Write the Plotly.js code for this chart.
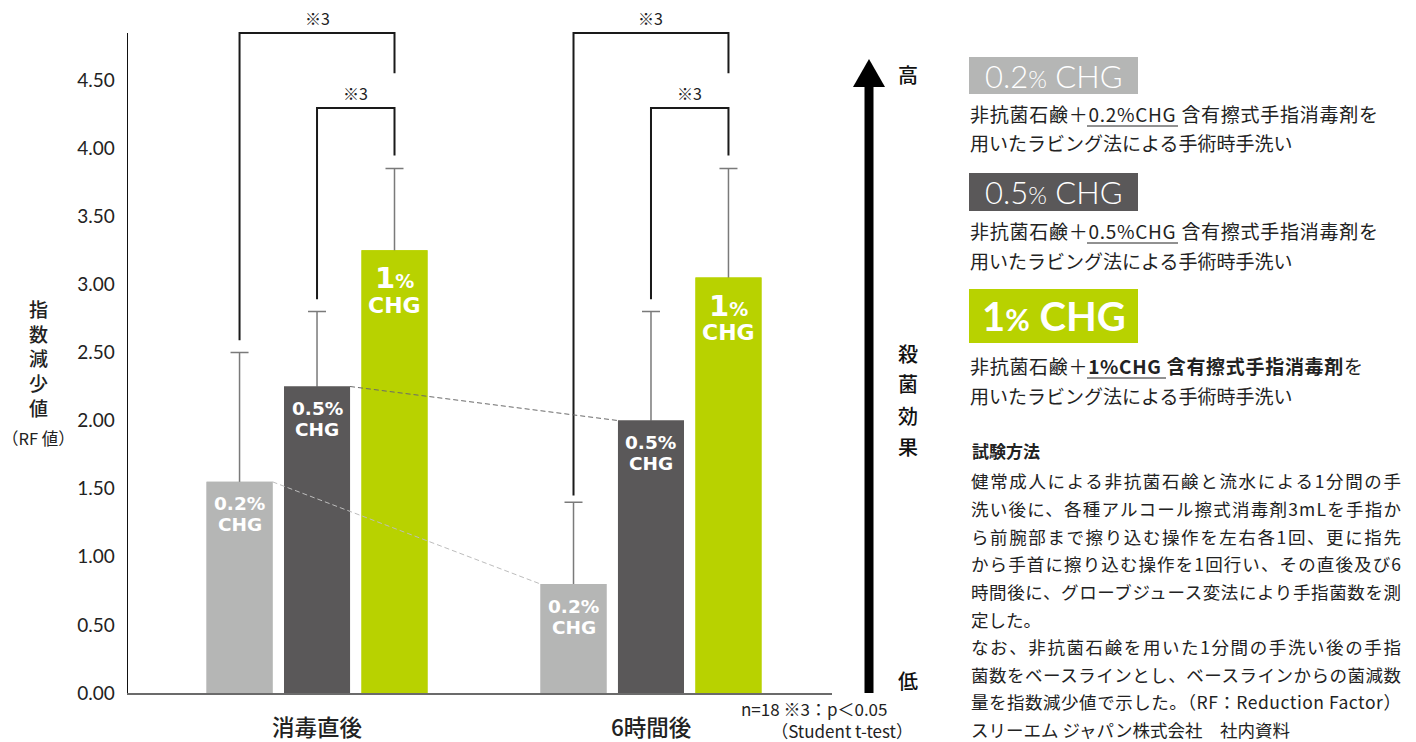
<!DOCTYPE html>
<html><head><meta charset="utf-8">
<script src="https://cdn.plot.ly/plotly-3.0.1.min.js"></script>
<style>html,body{margin:0;padding:0;background:#fff;}#chart{width:1416px;height:742px;}</style>
</head><body><div id="chart"></div>
<script>
// ---------- data ----------
const categories = ['消毒直後', '6時間後'];
const seriesNames = ['0.2% CHG', '0.5% CHG', '1% CHG'];
const rf02 = [1.55, 0.80];
const rf05 = [2.25, 2.00];
const rf1  = [3.25, 3.05];
const errUp02 = [0.95, 0.60];
const errUp05 = [0.55, 0.80];
const errUp1  = [0.60, 0.80];
const yTickVals = [0, 0.5, 1, 1.5, 2, 2.5, 3, 3.5, 4, 4.5];
const yTickText = ['0.00','0.50','1.00','1.50','2.00','2.50','3.00','3.50','4.00','4.50'];
const sigLabel = '※3';
// significance brackets: [left series, right series] and their levels
const bracketPairs = [[0, 2], [1, 2]];
const bracketTop = [4.845, 4.295];
const bracketRightEnd = [4.55, 3.945];
const bracketLeftStart = [[2.59, 2.89], [1.45, 2.89]];
const noteLine1 = 'n=18 ※3：p＜0.05';
const noteLine2 = '（Student t-test）';
const yTitleChars = '指<br>数<br>減<br>少<br>値';
const yTitleSub = '（RF 値）';
const effectHigh = '高', effectLow = '低';
const effectChars = ['殺', '菌', '効', '果'];
const legendDesc = [
  ['非抗菌石鹸＋0.2%CHG 含有擦式手指消毒剤を', '用いたラビング法による手術時手洗い'],
  ['非抗菌石鹸＋0.5%CHG 含有擦式手指消毒剤を', '用いたラビング法による手術時手洗い'],
  ['非抗菌石鹸＋<b>1%CHG 含有擦式手指消毒剤</b>を', '用いたラビング法による手術時手洗い']
];
const methodTitle = '試験方法';
const methodLines = [
  '健常成人による非抗菌石鹸と流水による1分間の手',
  '洗い後に、各種アルコール擦式消毒剤3mLを手指か',
  'ら前腕部まで擦り込む操作を左右各1回、更に指先',
  'から手首に擦り込む操作を1回行い、その直後及び6',
  '時間後に、グローブジュース変法により手指菌数を測',
  '定した。',
  'なお、非抗菌石鹸を用いた1分間の手洗い後の手指',
  '菌数をベースラインとし、ベースラインからの菌減数',
  '量を指数減少値で示した。（RF：Reduction Factor）',
  'スリーエム ジャパン株式会社　社内資料'
];
const methodJustified = [true, true, true, true, true, false, true, true, true, false];

// ---------- styling ----------
const colors = ['#b5b6b5', '#5a5859', '#b8d200'];
const values = [rf02, rf05, rf1];
const errs = [errUp02, errUp05, errUp1];
const CJK = '"Noto Sans CJK JP", sans-serif';
const NUM = 'Lato, sans-serif';
const BOLDF = '"DejaVu Sans", sans-serif';
const W = 1416, H = 742;
const M = {l: 128, r: 584, t: 33, b: 49};
const PW = W - M.l - M.r, PH = H - M.t - M.b;
const X_RANGE = [-0.566, 1.542];
const Y_RANGE = [0, 4.845];
const BARGAP = 0.304, BARGROUPGAP = 0.148;
const slot = (1 - BARGAP) / 3;
const halfBar = slot * (1 - BARGROUPGAP) / 2;
function off(s) { return (s - 1) * slot; }
function px(X) { return (X - M.l) / PW; }
function py(Y) { return (H - M.b - Y) / PH; }
function dx(v) { return (v - X_RANGE[0]) / (X_RANGE[1] - X_RANGE[0]); }
function dy(v) { return (v - Y_RANGE[0]) / (Y_RANGE[1] - Y_RANGE[0]); }

// base bars carry the error bars; identical bars on an overlaid subplot hide the lower caps
const traces = [];
values.forEach((vals, s) => {
  traces.push({
    type: 'bar', name: seriesNames[s], x: categories, y: vals, xaxis: 'x', yaxis: 'y',
    marker: {color: colors[s], line: {width: 0}},
    error_y: {type: 'data', symmetric: false, array: errs[s], arrayminus: vals.map(() => 0.03),
              color: '#7a7a7a', thickness: 1.5, width: 9},
    hoverinfo: 'skip', showlegend: false
  });
});
values.forEach((vals, s) => {
  traces.push({
    type: 'bar', name: seriesNames[s], x: categories, y: vals, xaxis: 'x2', yaxis: 'y2',
    marker: {color: colors[s], line: {width: 0}}, hoverinfo: 'skip', showlegend: false
  });
});

const shapes = [];
const annotations = [];

// brackets
categories.forEach((c, ci) => {
  bracketPairs.forEach((pr, bi) => {
    const xl = dx(ci + off(pr[0])), xr = dx(ci + off(pr[1]));
    const yl = dy(bracketLeftStart[ci][bi]), yt = dy(bracketTop[bi]), yr = dy(bracketRightEnd[bi]);
    shapes.push({type: 'path', xref: 'paper', yref: 'paper',
      path: `M ${xl} ${yl} L ${xl} ${yt} L ${xr} ${yt} L ${xr} ${yr}`,
      line: {color: '#1a1a1a', width: 2}});
    annotations.push({xref: 'paper', yref: 'paper', x: (xl + xr) / 2, y: yt, yshift: 15,
      text: sigLabel, showarrow: false, xanchor: 'center', yanchor: 'middle',
      font: {family: CJK, size: 16, color: '#222'}});
  });
});

// dashed connector lines between time points
const dashColors = ['#bdbdbd', '#6a6a6a'];
[0, 1].forEach(s => {
  shapes.push({type: 'line', xref: 'x', yref: 'y', layer: 'above',
    x0: 0 + off(s) + halfBar, y0: values[s][0], x1: 1 + off(s) - halfBar, y1: values[s][1],
    line: {color: dashColors[s], width: 1, dash: '5px,3px'}});
});

// bar labels
categories.forEach((c, ci) => {
  values.forEach((vals, s) => {
    const x = ci + off(s);
    if (s < 2) {
      annotations.push({xref: 'x', yref: 'y', x: x, y: vals[ci], yshift: -22, showarrow: false,
        text: seriesNames[s].split(' ')[0], xanchor: 'center', yanchor: 'middle',
        font: {family: BOLDF, size: 18.5, color: '#fff', weight: 'bold'}});
      annotations.push({xref: 'x', yref: 'y', x: x, y: vals[ci], yshift: -43, showarrow: false,
        text: 'CHG', xanchor: 'center', yanchor: 'middle',
        font: {family: BOLDF, size: 18.5, color: '#fff', weight: 'bold'}});
    } else {
      annotations.push({xref: 'x', yref: 'y', x: x, y: vals[ci], yshift: -28, showarrow: false,
        text: '1<span style="font-size:19px">%</span>', xanchor: 'center', yanchor: 'middle',
        font: {family: BOLDF, size: 29, color: '#fff', weight: 'bold'}});
      annotations.push({xref: 'x', yref: 'y', x: x, y: vals[ci], yshift: -55, showarrow: false,
        text: 'CHG', xanchor: 'center', yanchor: 'middle',
        font: {family: BOLDF, size: 22, color: '#fff', weight: 'bold'}});
    }
  });
});

// x category labels
categories.forEach((c, ci) => {
  annotations.push({xref: 'x', yref: 'paper', x: ci, y: 0, yshift: -33, text: c, showarrow: false,
    xanchor: 'center', yanchor: 'middle', borderpad: 0,
    font: {family: CJK, size: 22.5, color: '#222', weight: 500}});
});

// y title
annotations.push({xref: 'paper', yref: 'paper', x: px(39), y: py(358), text: yTitleChars, showarrow: false,
  xanchor: 'center', yanchor: 'middle', font: {family: CJK, size: 19, color: '#222', weight: 500}});
annotations.push({xref: 'paper', yref: 'paper', x: px(38), y: py(438), text: yTitleSub, showarrow: false,
  xanchor: 'center', yanchor: 'middle', font: {family: CJK, size: 16.5, color: '#222'}});

// notes (one block, right aligned)
annotations.push({xref: 'paper', yref: 'paper', x: px(914), y: py(719), showarrow: false,
  text: noteLine1 + '\u3000\u2002<br>' + noteLine2, align: 'right', borderpad: 0,
  xanchor: 'right', yanchor: 'middle', font: {family: CJK, size: 17, color: '#222'}});

// effect arrow
shapes.push({type: 'line', xref: 'paper', yref: 'paper', x0: px(869), x1: px(869), y0: py(693), y1: py(84),
  line: {color: '#000', width: 9}});
shapes.push({type: 'path', xref: 'paper', yref: 'paper',
  path: `M ${px(853)} ${py(87)} L ${px(885)} ${py(87)} L ${px(869)} ${py(59)} Z`,
  fillcolor: '#000', line: {width: 0}});
const effFont = {family: CJK, size: 20, color: '#111', weight: 500};
annotations.push({xref: 'paper', yref: 'paper', x: px(908), y: py(75), text: effectHigh, showarrow: false, xanchor: 'center', yanchor: 'middle', font: effFont});
annotations.push({xref: 'paper', yref: 'paper', x: px(908), y: py(680), text: effectLow, showarrow: false, xanchor: 'center', yanchor: 'middle', font: effFont});
effectChars.forEach((ch, i) => {
  annotations.push({xref: 'paper', yref: 'paper', x: px(908), y: py(353 + i * 31), text: ch, showarrow: false, xanchor: 'center', yanchor: 'middle', font: effFont});
});

// legend panel
const boxes = [
  {y0: 57, y1: 94, text: '0.2<span style="font-size:24px">%</span> CHG', size: 31, weight: 300, font: NUM},
  {y0: 173, y1: 211, text: '0.5<span style="font-size:24px">%</span> CHG', size: 31, weight: 300, font: NUM},
  {y0: 289, y1: 343, text: '1<span style="font-size:30px">%</span> CHG', size: 40, weight: 'bold', font: NUM}
];
const descY = [[113, 143], [230, 260], [365, 395]];
const descWidth = [408, 408, 393];
const underline = [[1087, 1178, 126], [1087, 1178, 243], [1087, 1166, 378]];
const justifyList = [];
boxes.forEach((b, i) => {
  shapes.push({type: 'rect', xref: 'paper', yref: 'paper', x0: px(969), x1: px(1138), y0: py(b.y0), y1: py(b.y1),
    fillcolor: colors[i], line: {width: 0}});
  annotations.push({xref: 'paper', yref: 'paper', x: px(1054), y: py((b.y0 + b.y1) / 2), text: b.text, showarrow: false,
    xanchor: 'center', yanchor: 'middle', font: {family: b.font, size: b.size, color: '#fff', weight: b.weight}});
  legendDesc[i].forEach((t, j) => {
    if (j === 0) justifyList.push([annotations.length, descWidth[i]]);
    annotations.push({xref: 'paper', yref: 'paper', x: px(968), y: py(descY[i][j]), text: t, showarrow: false,
      xanchor: 'left', yanchor: 'middle', align: 'left', font: {family: CJK, size: 19, color: '#222'}});
  });
  const u = underline[i];
  shapes.push({type: 'line', xref: 'paper', yref: 'paper', x0: px(u[0]), x1: px(u[1]), y0: py(u[2]), y1: py(u[2]),
    line: {color: '#222', width: 1}});
});

annotations.push({xref: 'paper', yref: 'paper', x: px(970), y: py(450), text: '<b>' + methodTitle + '</b>', showarrow: false,
  xanchor: 'left', yanchor: 'middle', font: {family: CJK, size: 17, color: '#222'}});
methodLines.forEach((t, i) => {
  if (methodJustified[i]) justifyList.push([annotations.length, 430]);
  annotations.push({xref: 'paper', yref: 'paper', x: px(970), y: py(481 + i * 27.6), text: t, showarrow: false,
    xanchor: 'left', yanchor: 'middle', align: 'left', borderpad: 0, font: {family: CJK, size: 17.5, color: '#222'}});
});

const layout = {
  width: W, height: H, margin: M, paper_bgcolor: '#fff', plot_bgcolor: 'rgba(0,0,0,0)',
  barmode: 'group', bargap: BARGAP, bargroupgap: BARGROUPGAP, showlegend: false,
  xaxis: {type: 'category', range: X_RANGE, showline: true, linecolor: '#6b6b6b', linewidth: 2,
    ticks: '', showgrid: false, zeroline: false, showticklabels: false, fixedrange: true},
  yaxis: {range: Y_RANGE, showline: true, linecolor: '#111', linewidth: 1.5, ticks: '', showgrid: false,
    zeroline: false, tickvals: yTickVals, ticktext: yTickText, ticklabelstandoff: 8,
    tickfont: {family: NUM, size: 19, color: '#222'}, fixedrange: true},
  xaxis2: {type: 'category', range: X_RANGE, overlaying: 'x', visible: false, fixedrange: true},
  yaxis2: {range: Y_RANGE, overlaying: 'y', visible: false, fixedrange: true},
  shapes: shapes, annotations: annotations
};
Plotly.newPlot('chart', traces, layout, {displayModeBar: false, staticPlot: true}).then(() => {
  // justify full text lines to their column width, as in the reference
  justifyList.forEach(([k, target]) => {
    const t = document.querySelector(`#chart .annotation[data-index="${k}"] text.annotation-text`);
    if (!t) return;
    const len = t.getComputedTextLength();
    const n = t.textContent.length;
    const ls = (target - len) / (n - 1);
    if (ls > 0 && ls < 6) t.style.letterSpacing = ls.toFixed(2) + 'px';
  });
});
</script></body></html>
